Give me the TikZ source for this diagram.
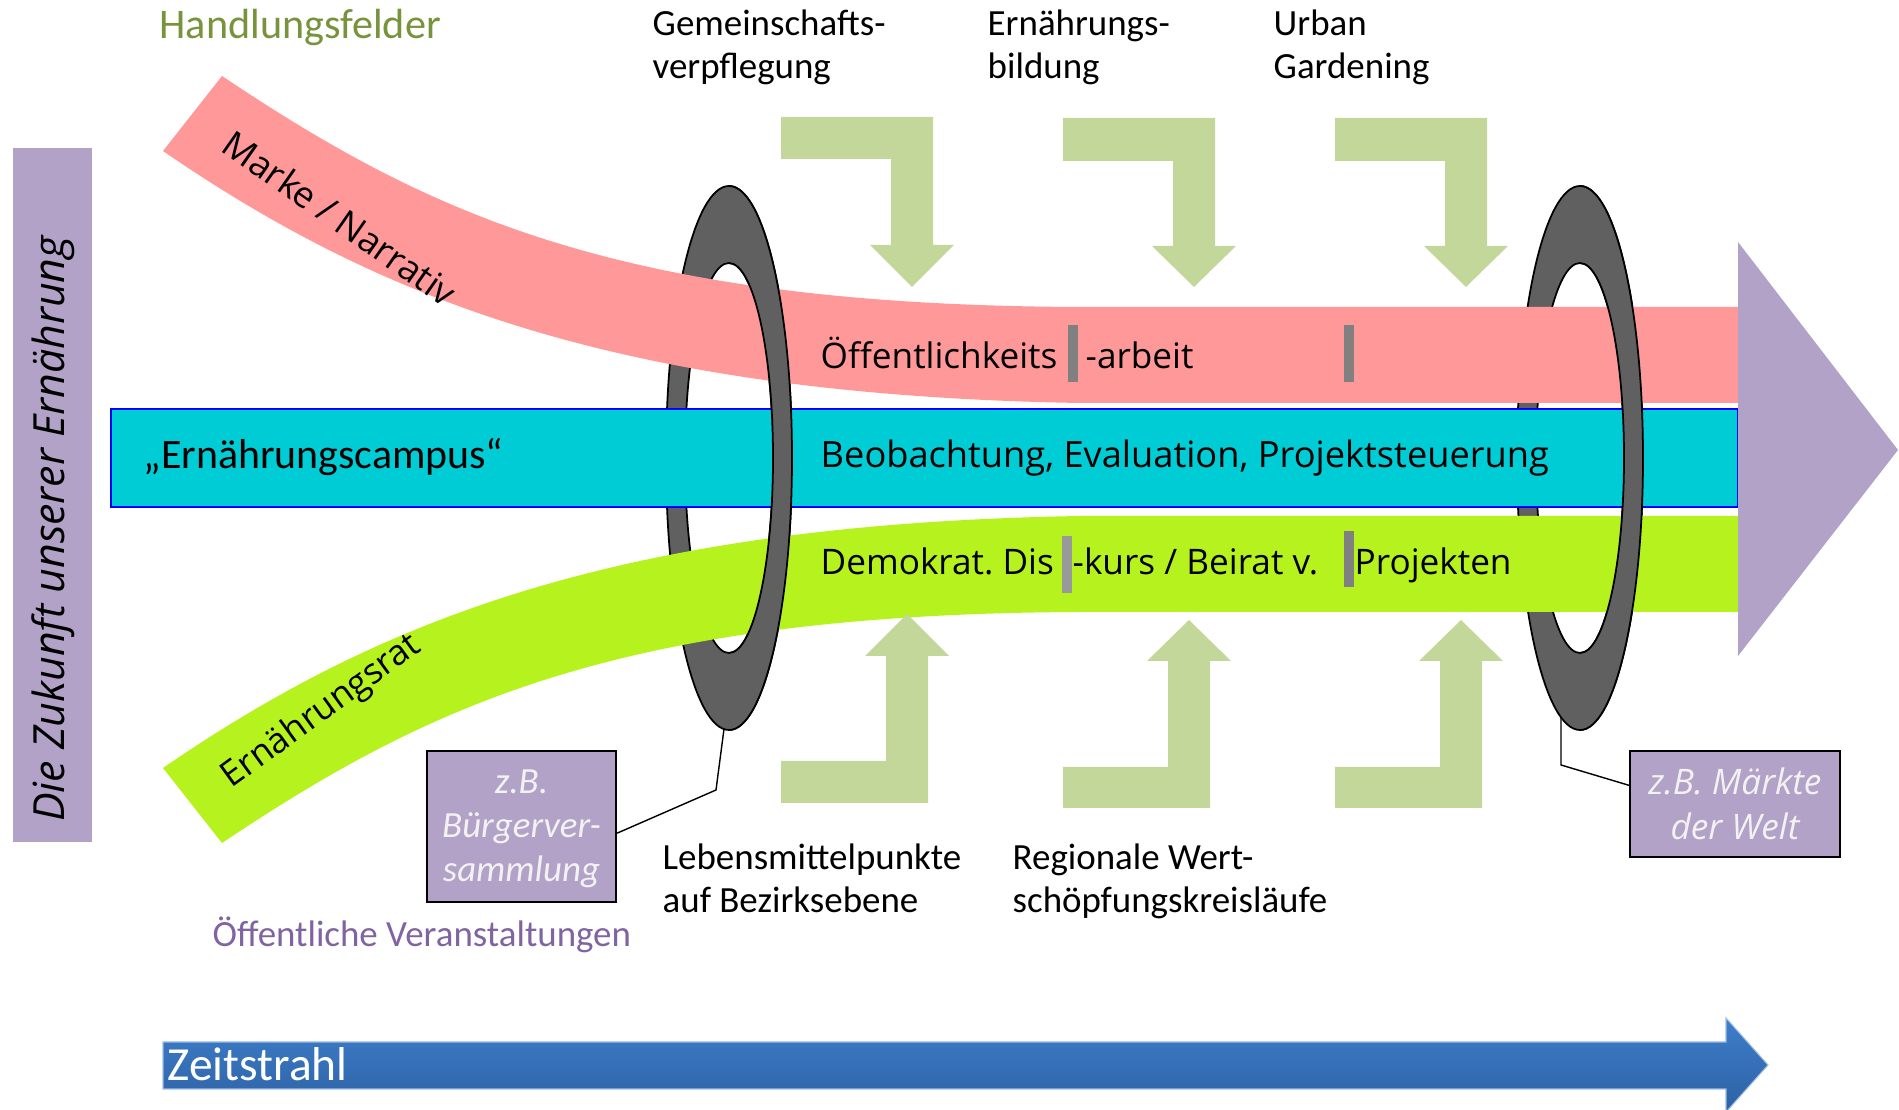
\documentclass[tikz,border=0pt]{standalone}
\usepackage{fontspec}
\setmainfont{Carlito}
\newfontfamily\opensans{Open Sans}
\usepackage{tikz}
\usetikzlibrary{positioning}
\usepackage{color}
\definecolor{narrativ}{RGB}{255,153,153}
\definecolor{campus}{RGB}{0,204,214}
\definecolor{rat}{RGB}{182,242,29}
\definecolor{lila}{RGB}{179,162,199}
\definecolor{feld}{RGB}{196,215,155}
\definecolor{ringgrau}{RGB}{96,96,96}
\definecolor{titelgruen}{RGB}{119,147,60}
\definecolor{veranst}{RGB}{128,100,162}
\definecolor{blauoben}{RGB}{62,126,202}
\definecolor{blauunten}{RGB}{45,97,164}
\frenchspacing

\begin{document}
\begin{tikzpicture}[x=0.01cm,y=-0.01cm,
	bandtext/.style={anchor=base west,inner sep=0pt,font=\opensans\fontsize{10}{12}\selectfont},
	feldtext/.style={anchor=base west,inner sep=0pt,align=left,font=\fontsize{10.5}{12.5}\selectfont},
	hinweis/.style={draw=black,line width=0.6pt,fill=lila,text=white!95!black,align=center,inner sep=0pt},
	ring/.style={fill=ringgrau,draw=black,line width=0.5pt,even odd rule},
	feldpfeil/.style={fill=feld},
	strich/.style={fill=gray}]
	\useasboundingbox (0,0) rectangle (1899,1110);
	\fill[lila] (13,148) rectangle (92,842);
	\node[rotate=90,font=\opensans\itshape\fontsize{12.2}{14}\selectfont] (zukunft) at (53,529) {Die Zukunft unserer Ernährung};
	\node[feldtext,text=titelgruen,font=\fontsize{12}{14}\selectfont] (hf) at (159,39) {Handlungsfelder};
	\node[feldtext] (gv) at (652,79) {Gemeinschafts-\\verpflegung};
	\node[feldtext] (eb) at (987,79) {Ernährungs-\\bildung};
	\node[feldtext] (ug) at (1273,79) {Urban\\Gardening};
	\path[ring] (729,458) ellipse [x radius=63,y radius=272] (729,458) ellipse [x radius=44,y radius=195];
	\path[ring] (1580,458) ellipse [x radius=63,y radius=272] (1580,458) ellipse [x radius=44,y radius=195];
	\fill[narrativ] (222,76) .. controls (430,215) and (620,305) .. (1080,307) -- (1738,307) -- (1738,403) -- (1080,403) .. controls (620,395) and (380,300) .. (163,151) -- cycle;
	\filldraw[fill=campus,draw=blue,line width=0.4pt] (111,409) rectangle (1738,507);
	\fill[rat] (222,843) .. controls (430,704) and (620,614) .. (1080,612) -- (1738,612) -- (1738,516) -- (1080,516) .. controls (620,524) and (380,619) .. (163,768) -- cycle;
	\fill[lila] (1738,242) -- (1898,450) -- (1738,656) -- cycle;
	\begin{scope}
		\clip (729,150) rectangle (800,760);
		\path[ring] (729,458) ellipse [x radius=63,y radius=272] (729,458) ellipse [x radius=44,y radius=195];
	\end{scope}
	\begin{scope}
		\clip (1580,150) rectangle (1651,760);
		\path[ring] (1580,458) ellipse [x radius=63,y radius=272] (1580,458) ellipse [x radius=44,y radius=195];
	\end{scope}
	\fill[feldpfeil] (781,117) -- (933,117) -- (933,245) -- (954,245) -- (912,287) -- (870,245) -- (891,245) -- (891,159) -- (781,159) -- cycle;
	\fill[feldpfeil] (1063,118) -- (1215,118) -- (1215,246) -- (1236,246) -- (1194,287) -- (1152,246) -- (1173,246) -- (1173,161) -- (1063,161) -- cycle;
	\fill[feldpfeil] (1335,118) -- (1487,118) -- (1487,246) -- (1508,246) -- (1466,287) -- (1424,246) -- (1445,246) -- (1445,161) -- (1335,161) -- cycle;
	\fill[feldpfeil] (781,803) -- (928,803) -- (928,656) -- (949,656) -- (907,614) -- (865,656) -- (886,656) -- (886,761) -- (781,761) -- cycle;
	\fill[feldpfeil] (1063,808) -- (1210,808) -- (1210,661) -- (1231,661) -- (1189,620) -- (1147,661) -- (1168,661) -- (1168,767) -- (1063,767) -- cycle;
	\fill[feldpfeil] (1335,808) -- (1482,808) -- (1482,661) -- (1503,661) -- (1461,620) -- (1419,661) -- (1440,661) -- (1440,767) -- (1335,767) -- cycle;
	\node[rotate=-35,font=\opensans\fontsize{10.3}{12}\selectfont] (marke) at (340,218) {Marke / Narrativ};
	\node[rotate=36,font=\opensans\fontsize{10}{12}\selectfont] (rat) at (322,712) {Ernährungsrat};
	\node[anchor=base west,inner sep=0pt,font=\fontsize{11.9}{13}\selectfont] (campus) at (143,469) {„Ernährungscampus“};
	\node[bandtext] (oeff) at (820,369) {Öffentlichkeits};
	\node[bandtext] (arbeit) at (1085,369) {-arbeit};
	\node[bandtext,font=\opensans\fontsize{10.3}{12}\selectfont] (beob) at (820,468) {Beobachtung, Evaluation, Projektsteuerung};
	\node[bandtext] (demo) at (820,575) {Demokrat. Dis};
	\node[bandtext] (kurs) at (1072,575) {-kurs / Beirat v.};
	\node[bandtext] (proj) at (1354,575) {Projekten};
	\fill[strich] (1068,325) rectangle (1078,382);
	\fill[strich] (1344,325) rectangle (1354,382);
	\fill[strich,gray!80] (1062,536) rectangle (1072,593);
	\fill[strich] (1344,531) rectangle (1354,587);
	\node[hinweis,minimum width=1.89cm,minimum height=1.51cm,font=\itshape\fontsize{10.5}{12.6}\selectfont] (buerger) at (521.5,826.5) {\rule{0pt}{8pt}z.B.\\Bürgerver-\\sammlung};
	\node[hinweis,minimum width=2.10cm,minimum height=1.06cm,font=\opensans\itshape\fontsize{10}{12.8}\selectfont] (maerkte) at (1735,804) {z.B. Märkte\\der Welt};
	\coordinate (ringA) at (724,729);
	\coordinate (ringB) at (1561,717);
	\draw[line width=0.4pt] (ringA) -- (716,790) -- (buerger.-4);
	\draw[line width=0.4pt] (ringB) -- (1561,765) -- (maerkte.170);
	\node[feldtext] (lmp) at (662,913) {Lebensmittelpunkte\\auf Bezirksebene};
	\node[feldtext] (rwk) at (1012,913) {Regionale Wert-\\schöpfungskreisläufe};
	\node[feldtext,text=veranst] (oev) at (212,947) {Öffentliche Veranstaltungen};
	\path[top color=blauoben,bottom color=blauunten,draw=blauoben!50!white,line width=0.3pt] (163,1042) -- (1726,1042) -- (1726,1018) -- (1768,1065) -- (1726,1112) -- (1726,1089) -- (163,1089) -- cycle;
	\node[anchor=base west,inner sep=0pt,text=white,font=\fontsize{13.5}{16}\selectfont] (zeit) at (167,1081) {Zeitstrahl};
\end{tikzpicture}
\end{document}
